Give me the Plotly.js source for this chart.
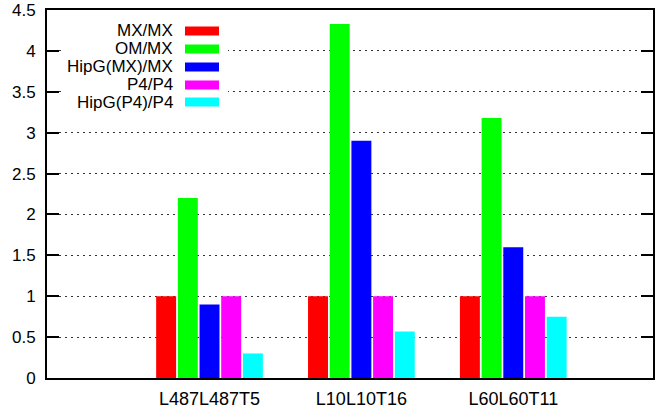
<!DOCTYPE html>
<html>
<head>
<meta charset="utf-8">
<script src="https://cdn.plot.ly/plotly-3.0.1.min.js"></script>
<style>html,body{margin:0;padding:0;background:#fff;}#chart{width:661px;height:408px;}</style>
</head>
<body>
<div id="chart"></div>
<script>
const categories = ["L487L487T5", "L10L10T16", "L60L60T11"];
const seriesNames = ["MX/MX", "OM/MX", "HipG(MX)/MX", "P4/P4", "HipG(P4)/P4"];
const seriesColors = ["#ff0000", "#00ff00", "#0000ff", "#ff00ff", "#00ffff"];
const mxmx = [1, 1, 1];
const ommx = [2.2, 4.33, 3.18];
const hipgmx = [0.9, 2.9, 1.6];
const p4p4 = [1, 1, 1];
const hipgp4 = [0.3, 0.57, 0.75];
const yTicks = [0, 0.5, 1, 1.5, 2, 2.5, 3, 3.5, 4, 4.5];

const seriesValues = [mxmx, ommx, hipgmx, p4p4, hipgp4];
const traces = seriesValues.map((vals, i) => ({
  type: "bar",
  x: categories,
  y: vals,
  name: seriesNames[i],
  marker: {color: seriesColors[i], line: {width: 0}},
  showlegend: false,
  hoverinfo: "none"
}));

// manual gnuplot-style key: text right-justified, colour sample to its right
const plotL = 47, plotR = 653, plotT = 10, plotB = 378;
const pw = plotR - plotL, ph = plotB - plotT;
const px = v => (v - plotL) / pw;
const py = v => (plotB - v) / ph;
const rowY = [31, 49, 67, 85, 102];
const shapes = [{
  type: "rect", xref: "paper", yref: "paper", layer: "above",
  x0: px(61), x1: px(228), y0: py(113), y1: py(20),
  fillcolor: "#ffffff", line: {width: 0}
}];
const annotations = [];
seriesNames.forEach((n, i) => {
  annotations.push({
    xref: "paper", yref: "paper", x: px(175), y: py(rowY[i]),
    xanchor: "right", yanchor: "middle", text: n, showarrow: false,
    font: {family: "Liberation Sans, Arial, sans-serif", size: 17, color: "#000"}
  });
  shapes.push({
    type: "rect", xref: "paper", yref: "paper", layer: "above",
    x0: px(185), x1: px(219), y0: py(rowY[i] + 4.5), y1: py(rowY[i] - 4.5),
    fillcolor: seriesColors[i], line: {width: 0}
  });
});

const layout = {
  width: 661, height: 408,
  margin: {l: plotL, r: 661 - plotR, t: plotT, b: 408 - plotB, pad: 0},
  paper_bgcolor: "#fff", plot_bgcolor: "#fff",
  barmode: "group", bargap: 0.286, bargroupgap: 0.08,
  font: {family: "Liberation Sans, Arial, sans-serif", size: 17, color: "#000"},
  xaxis: {
    type: "category", range: [-1.07, 2.92],
    showline: true, linecolor: "#000", linewidth: 2, mirror: true,
    ticks: "", showgrid: false, zeroline: false,
    tickfont: {size: 18}, ticklabelstandoff: 3
  },
  yaxis: {
    range: [0, 4.5], tickvals: yTicks, ticktext: yTicks.map(String),
    showline: true, linecolor: "#000", linewidth: 2, mirror: "ticks",
    ticks: "inside", ticklen: 12, tickwidth: 2, tickcolor: "#000",
    showgrid: true, gridcolor: "#333", gridwidth: 1, griddash: "2px,4px",
    zeroline: false, tickfont: {size: 17}, ticklabelstandoff: 6
  },
  shapes: shapes,
  annotations: annotations
};
Plotly.newPlot("chart", traces, layout, {displayModeBar: false, staticPlot: true});
</script>
</body>
</html>
